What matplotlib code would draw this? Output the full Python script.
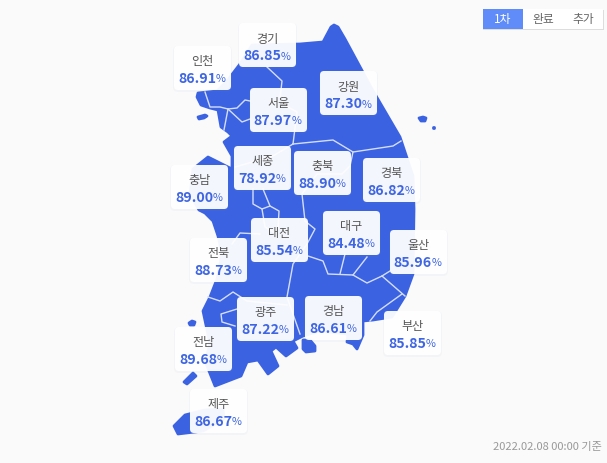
import matplotlib
matplotlib.use('Agg')
import matplotlib.pyplot as plt
from matplotlib.patches import Polygon, FancyBboxPatch, Rectangle

plt.rcParams['font.family'] = ['Noto Sans CJK KR', 'DejaVu Sans']

regions = ['경기', '인천', '강원', '서울', '세종', '충북', '경북', '충남', '대구',
           '대전', '전북', '울산', '광주', '경남', '부산', '전남', '제주']
rates = [86.85, 86.91, 87.30, 87.97, 78.92, 88.90, 86.82, 89.00, 84.48,
         85.54, 88.73, 85.96, 87.22, 86.61, 85.85, 89.68, 86.67]
tabs = ['1차', '완료', '추가']
footer = '2022.02.08 00:00 기준'

# top left corner of each card, in pixels
card_xy = [(239, 24), (174, 47), (320, 72), (250, 89), (234, 147), (294, 152),
           (363, 159), (171, 166), (323, 212), (251, 219), (190, 239), (390, 231),
           (237, 298), (305, 297), (384, 312), (175, 328), (190, 390)]

# map outlines
mainland = [(331, 28), (334, 26), (338, 28), (345, 40), (372, 90), (400, 138), (413, 177),
            (414, 210), (413, 275), (405, 297), (392, 318), (373, 321), (363, 322),
            (363, 336), (357, 350), (353, 345), (347, 343), (348, 335), (320, 332),
            (303, 337), (293, 342), (297, 349), (286, 357), (276, 348), (271, 352),
            (278, 367), (268, 375), (258, 361), (247, 363), (241, 377), (215, 387),
            (205, 362), (210, 345), (203, 312), (210, 298), (217, 280), (222, 255),
            (218, 237), (213, 222), (205, 214), (199, 211), (190, 195), (193, 170),
            (208, 158), (232, 170), (232, 157), (224, 143), (232, 137), (228, 133),
            (221, 128), (218, 111), (210, 109), (201, 106), (197, 98), (198, 94),
            (217, 92), (227, 82), (240, 65), (252, 46), (300, 45), (323, 43)]
geoje = [(303, 341), (310, 341), (315, 347), (315, 352), (306, 353), (303, 350)]
islands = [
    [(198, 118), (205, 116), (207, 117), (204, 119), (199, 120)],
    [(419, 119), (423, 118), (426, 119), (425, 122), (421, 122)],
    [(432.5, 127.5), (433.5, 127.5), (433.5, 128.5), (432.5, 128.5)],
    [(189, 324), (192, 322), (195, 323), (194, 326), (190, 326)],
    [(184, 383), (193, 374), (196, 377), (187, 385)],
    [(174, 427), (185, 416), (205, 411), (223, 410), (224, 420), (203, 432), (178, 435)],
]
borders = [
    [(267, 68), (282, 82), (280, 100), (288, 108), (297, 113), (293, 145)],
    [(293, 145), (333, 141), (353, 153), (393, 147), (401, 142)],
    [(353, 153), (350, 167), (342, 175), (317, 175), (302, 195), (305, 222),
     (315, 230), (307, 245), (293, 265), (287, 298), (300, 335)],
    [(293, 145), (273, 157), (235, 168)],
    [(253, 190), (253, 205), (262, 210), (270, 207), (263, 190)],
    [(270, 207), (279, 212), (278, 230)],
    [(262, 210), (265, 228), (275, 234)],
    [(232, 245), (240, 234), (260, 235)],
    [(308, 257), (323, 262), (328, 275), (353, 276), (367, 284), (382, 277), (390, 272)],
    [(340, 275), (345, 255)],
    [(353, 276), (367, 258)],
    [(382, 277), (405, 297)],
    [(402, 295), (377, 313), (370, 322)],
    [(208, 298), (220, 302), (233, 293), (247, 302), (287, 306)],
    [(237, 310), (221, 315), (222, 323), (235, 327)],
    [(205, 93), (210, 108), (220, 108), (228, 110), (237, 109), (245, 101), (250, 102)],
    [(228, 110), (242, 123), (250, 120)],
    [(228, 110), (224, 131)],
]

MAP_BLUE = '#3b62e1'
VALUE_BLUE = '#3f66e2'

fig = plt.figure(figsize=(6.07, 4.64), dpi=100, facecolor='#fafafb')
ax = fig.add_axes([0, 0, 1, 1])
ax.set_xlim(0, 607)
ax.set_ylim(464, 0)
ax.axis('off')

for shape in [mainland, geoje] + islands:
    ax.add_patch(Polygon(shape, closed=True, fc=MAP_BLUE, ec=MAP_BLUE, lw=2.0, joinstyle='round', zorder=1))
for line in borders:
    ax.plot([p[0] for p in line], [p[1] for p in line], color='#d5def8', lw=1.0, zorder=2,
            solid_joinstyle='round')

for name, rate, (x, y) in zip(regions, rates, card_xy):
    ax.add_patch(FancyBboxPatch((x - 1, y), 59, 46, boxstyle='round,pad=0,rounding_size=5',
                                fc='#8090b0', ec='none', alpha=0.05, zorder=3))
    ax.add_patch(FancyBboxPatch((x, y), 57, 44, boxstyle='round,pad=0,rounding_size=4',
                                fc='white', ec='none', alpha=0.95, zorder=4))
    cx = x + 28.5
    ax.text(cx, y + 15, name, ha='center', va='center', fontsize=8.7, color='#555555', zorder=5)
    ax.text(cx + 13.5, y + 32, f'{rate:.2f}', ha='right', va='center', fontsize=10.2,
            fontweight='bold', color=VALUE_BLUE, zorder=5)
    ax.text(cx + 13.5, y + 32.5, '%', ha='left', va='center', fontsize=7.8,
            fontweight='medium', color=VALUE_BLUE, zorder=5)

# tab buttons
ax.add_patch(Rectangle((483, 11), 121, 20, fc='#dddddd', ec='none', zorder=3))
ax.add_patch(Rectangle((483, 10), 120, 20, fc='white', ec='none', zorder=4))
ax.add_patch(Rectangle((483, 10), 40, 20, fc='#5f8cf9', ec='none', zorder=5))
for i, tab in enumerate(tabs):
    ax.text(503 + 40 * i, 20, tab, ha='center', va='center', fontsize=8.5,
            color='white' if i == 0 else '#666666', zorder=6)

ax.text(602, 447, footer, ha='right', va='center', fontsize=8.0, color='#999999')

fig.savefig('out.png', dpi=100, facecolor=fig.get_facecolor())
